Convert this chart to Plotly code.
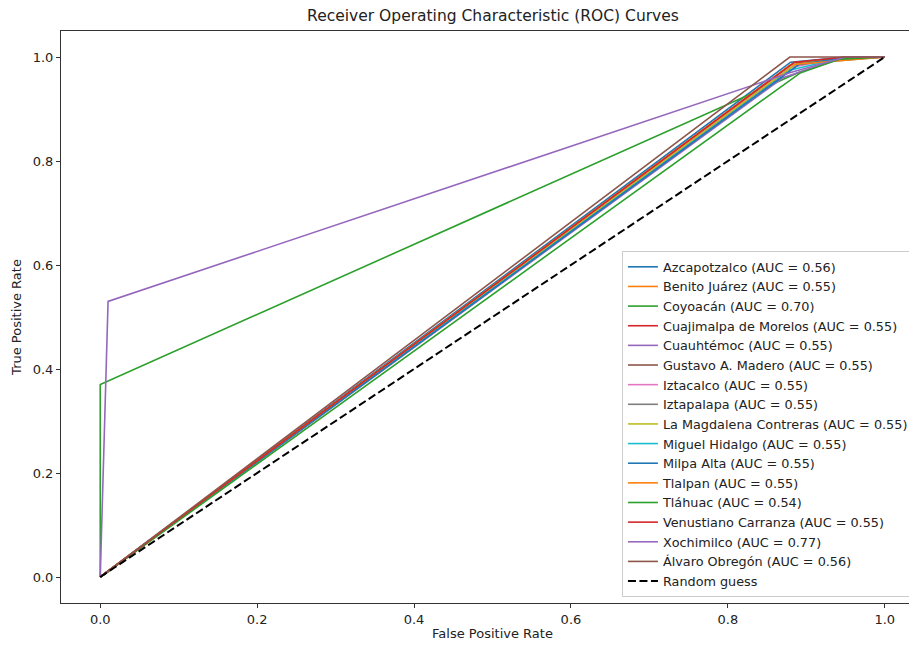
import plotly.graph_objects as go

# ---------------- data ----------------
DISTRICTS = [
    "Azcapotzalco", "Benito Juárez", "Coyoacán", "Cuajimalpa de Morelos",
    "Cuauhtémoc", "Gustavo A. Madero", "Iztacalco", "Iztapalapa",
    "La Magdalena Contreras", "Miguel Hidalgo", "Milpa Alta", "Tlalpan",
    "Tláhuac", "Venustiano Carranza", "Xochimilco", "Álvaro Obregón",
]
AUC = [0.56, 0.55, 0.70, 0.55, 0.55, 0.55, 0.55, 0.55,
       0.55, 0.55, 0.55, 0.55, 0.54, 0.55, 0.77, 0.56]

FPR_AZCAPOTZALCO = [0.0, 0.88, 0.95, 1.0]
TPR_AZCAPOTZALCO = [0.0, 0.99, 1.0, 1.0]
FPR_BENITO_JUAREZ = [0.0, 0.885, 0.95, 1.0]
TPR_BENITO_JUAREZ = [0.0, 0.985, 1.0, 1.0]
FPR_COYOACAN = [0.0, 0.0, 0.89, 0.95, 1.0]
TPR_COYOACAN = [0.0, 0.37, 0.97, 1.0, 1.0]
FPR_CUAJIMALPA = [0.0, 0.89, 1.0]
TPR_CUAJIMALPA = [0.0, 0.99, 1.0]
FPR_CUAUHTEMOC = [0.0, 0.87, 0.95, 1.0]
TPR_CUAUHTEMOC = [0.0, 0.96, 1.0, 1.0]
FPR_GUSTAVO = [0.0, 0.885, 1.0]
TPR_GUSTAVO = [0.0, 0.99, 1.0]
FPR_IZTACALCO = [0.0, 0.88, 0.95, 1.0]
TPR_IZTACALCO = [0.0, 0.98, 1.0, 1.0]
FPR_IZTAPALAPA = [0.0, 0.88, 1.0]
TPR_IZTAPALAPA = [0.0, 0.985, 1.0]
FPR_MAGDALENA = [0.0, 0.885, 0.95, 1.0]
TPR_MAGDALENA = [0.0, 0.985, 1.0, 1.0]
FPR_MIGUEL_HIDALGO = [0.0, 0.88, 0.95, 1.0]
TPR_MIGUEL_HIDALGO = [0.0, 0.975, 1.0, 1.0]
FPR_MILPA_ALTA = [0.0, 0.89, 0.95, 1.0]
TPR_MILPA_ALTA = [0.0, 0.985, 1.0, 1.0]
FPR_TLALPAN = [0.0, 0.88, 1.0]
TPR_TLALPAN = [0.0, 0.985, 1.0]
FPR_TLAHUAC = [0.0, 0.892, 0.943, 1.0]
TPR_TLAHUAC = [0.0, 0.969, 0.996, 1.0]
FPR_VENUSTIANO = [0.0, 0.885, 0.95, 1.0]
TPR_VENUSTIANO = [0.0, 0.99, 1.0, 1.0]
FPR_XOCHIMILCO = [0.0, 0.01, 0.88, 0.95, 1.0]
TPR_XOCHIMILCO = [0.0, 0.53, 0.97, 1.0, 1.0]
FPR_ALVARO = [0.0, 0.879, 1.0]
TPR_ALVARO = [0.0, 1.0, 1.0]

RANDOM_X = [0.0, 1.0]
RANDOM_Y = [0.0, 1.0]

TICKS = [0.0, 0.2, 0.4, 0.6, 0.8, 1.0]
TICK_LABELS = ["0.0", "0.2", "0.4", "0.6", "0.8", "1.0"]

FPRS = [FPR_AZCAPOTZALCO, FPR_BENITO_JUAREZ, FPR_COYOACAN, FPR_CUAJIMALPA,
        FPR_CUAUHTEMOC, FPR_GUSTAVO, FPR_IZTACALCO, FPR_IZTAPALAPA,
        FPR_MAGDALENA, FPR_MIGUEL_HIDALGO, FPR_MILPA_ALTA, FPR_TLALPAN,
        FPR_TLAHUAC, FPR_VENUSTIANO, FPR_XOCHIMILCO, FPR_ALVARO]
TPRS = [TPR_AZCAPOTZALCO, TPR_BENITO_JUAREZ, TPR_COYOACAN, TPR_CUAJIMALPA,
        TPR_CUAUHTEMOC, TPR_GUSTAVO, TPR_IZTACALCO, TPR_IZTAPALAPA,
        TPR_MAGDALENA, TPR_MIGUEL_HIDALGO, TPR_MILPA_ALTA, TPR_TLALPAN,
        TPR_TLAHUAC, TPR_VENUSTIANO, TPR_XOCHIMILCO, TPR_ALVARO]

# ---------------- style ----------------
TAB10 = ["#1f77b4", "#ff7f0e", "#2ca02c", "#d62728", "#9467bd",
         "#8c564b", "#e377c2", "#7f7f7f", "#bcbd22", "#17becf"]
FONT = "DejaVu Sans"

fig = go.Figure()
for i, name in enumerate(DISTRICTS):
    fig.add_trace(go.Scatter(
        x=FPRS[i], y=TPRS[i], mode="lines",
        name=f"{name} (AUC = {AUC[i]:.2f})",
        line=dict(color=TAB10[i % 10], width=1.6),
    ))
fig.add_trace(go.Scatter(
    x=RANDOM_X, y=RANDOM_Y, mode="lines", name="Random guess",
    line=dict(color="black", width=2, dash="8px,3.5px"),
))

axis_common = dict(
    showgrid=False, zeroline=False, showline=True, linecolor="#333333",
    linewidth=1, ticks="outside", ticklen=4, tickcolor="#333333",
    tickvals=TICKS, ticktext=TICK_LABELS, automargin=False,
    tickfont=dict(family=FONT, size=13, color="#222222"),
)

# the page body adds an 8 px offset; layout below compensates for it
fig.update_layout(
    width=917, height=645,
    margin=dict(l=53, r=1, t=23, b=50),
    paper_bgcolor="white", plot_bgcolor="white",
    font=dict(family=FONT, size=13, color="#222222"),
    title=dict(text="Receiver Operating Characteristic (ROC) Curves",
               x=485 / 917, xref="container", xanchor="center",
               y=1 - 2 / 645, yref="container", yanchor="top",
               font=dict(family=FONT, size=15.5, color="#222222")),
    xaxis=dict(range=[-0.05, 1.05], mirror=True,
               title=dict(text="False Positive Rate", standoff=3,
                          font=dict(family=FONT, size=13)),
               **axis_common),
    yaxis=dict(range=[-0.05, 1.05],
               title=dict(text="True Positive Rate", standoff=8,
                          font=dict(family=FONT, size=13)),
               **axis_common),
    legend=dict(x=0.650, y=0.0105, xanchor="left", yanchor="bottom",
                bgcolor="rgba(255,255,255,0.85)", bordercolor="#cccccc",
                borderwidth=1, font=dict(family=FONT, size=12.8),
                tracegroupgap=0),
    showlegend=True,
)

fig.write_html("out.html")
